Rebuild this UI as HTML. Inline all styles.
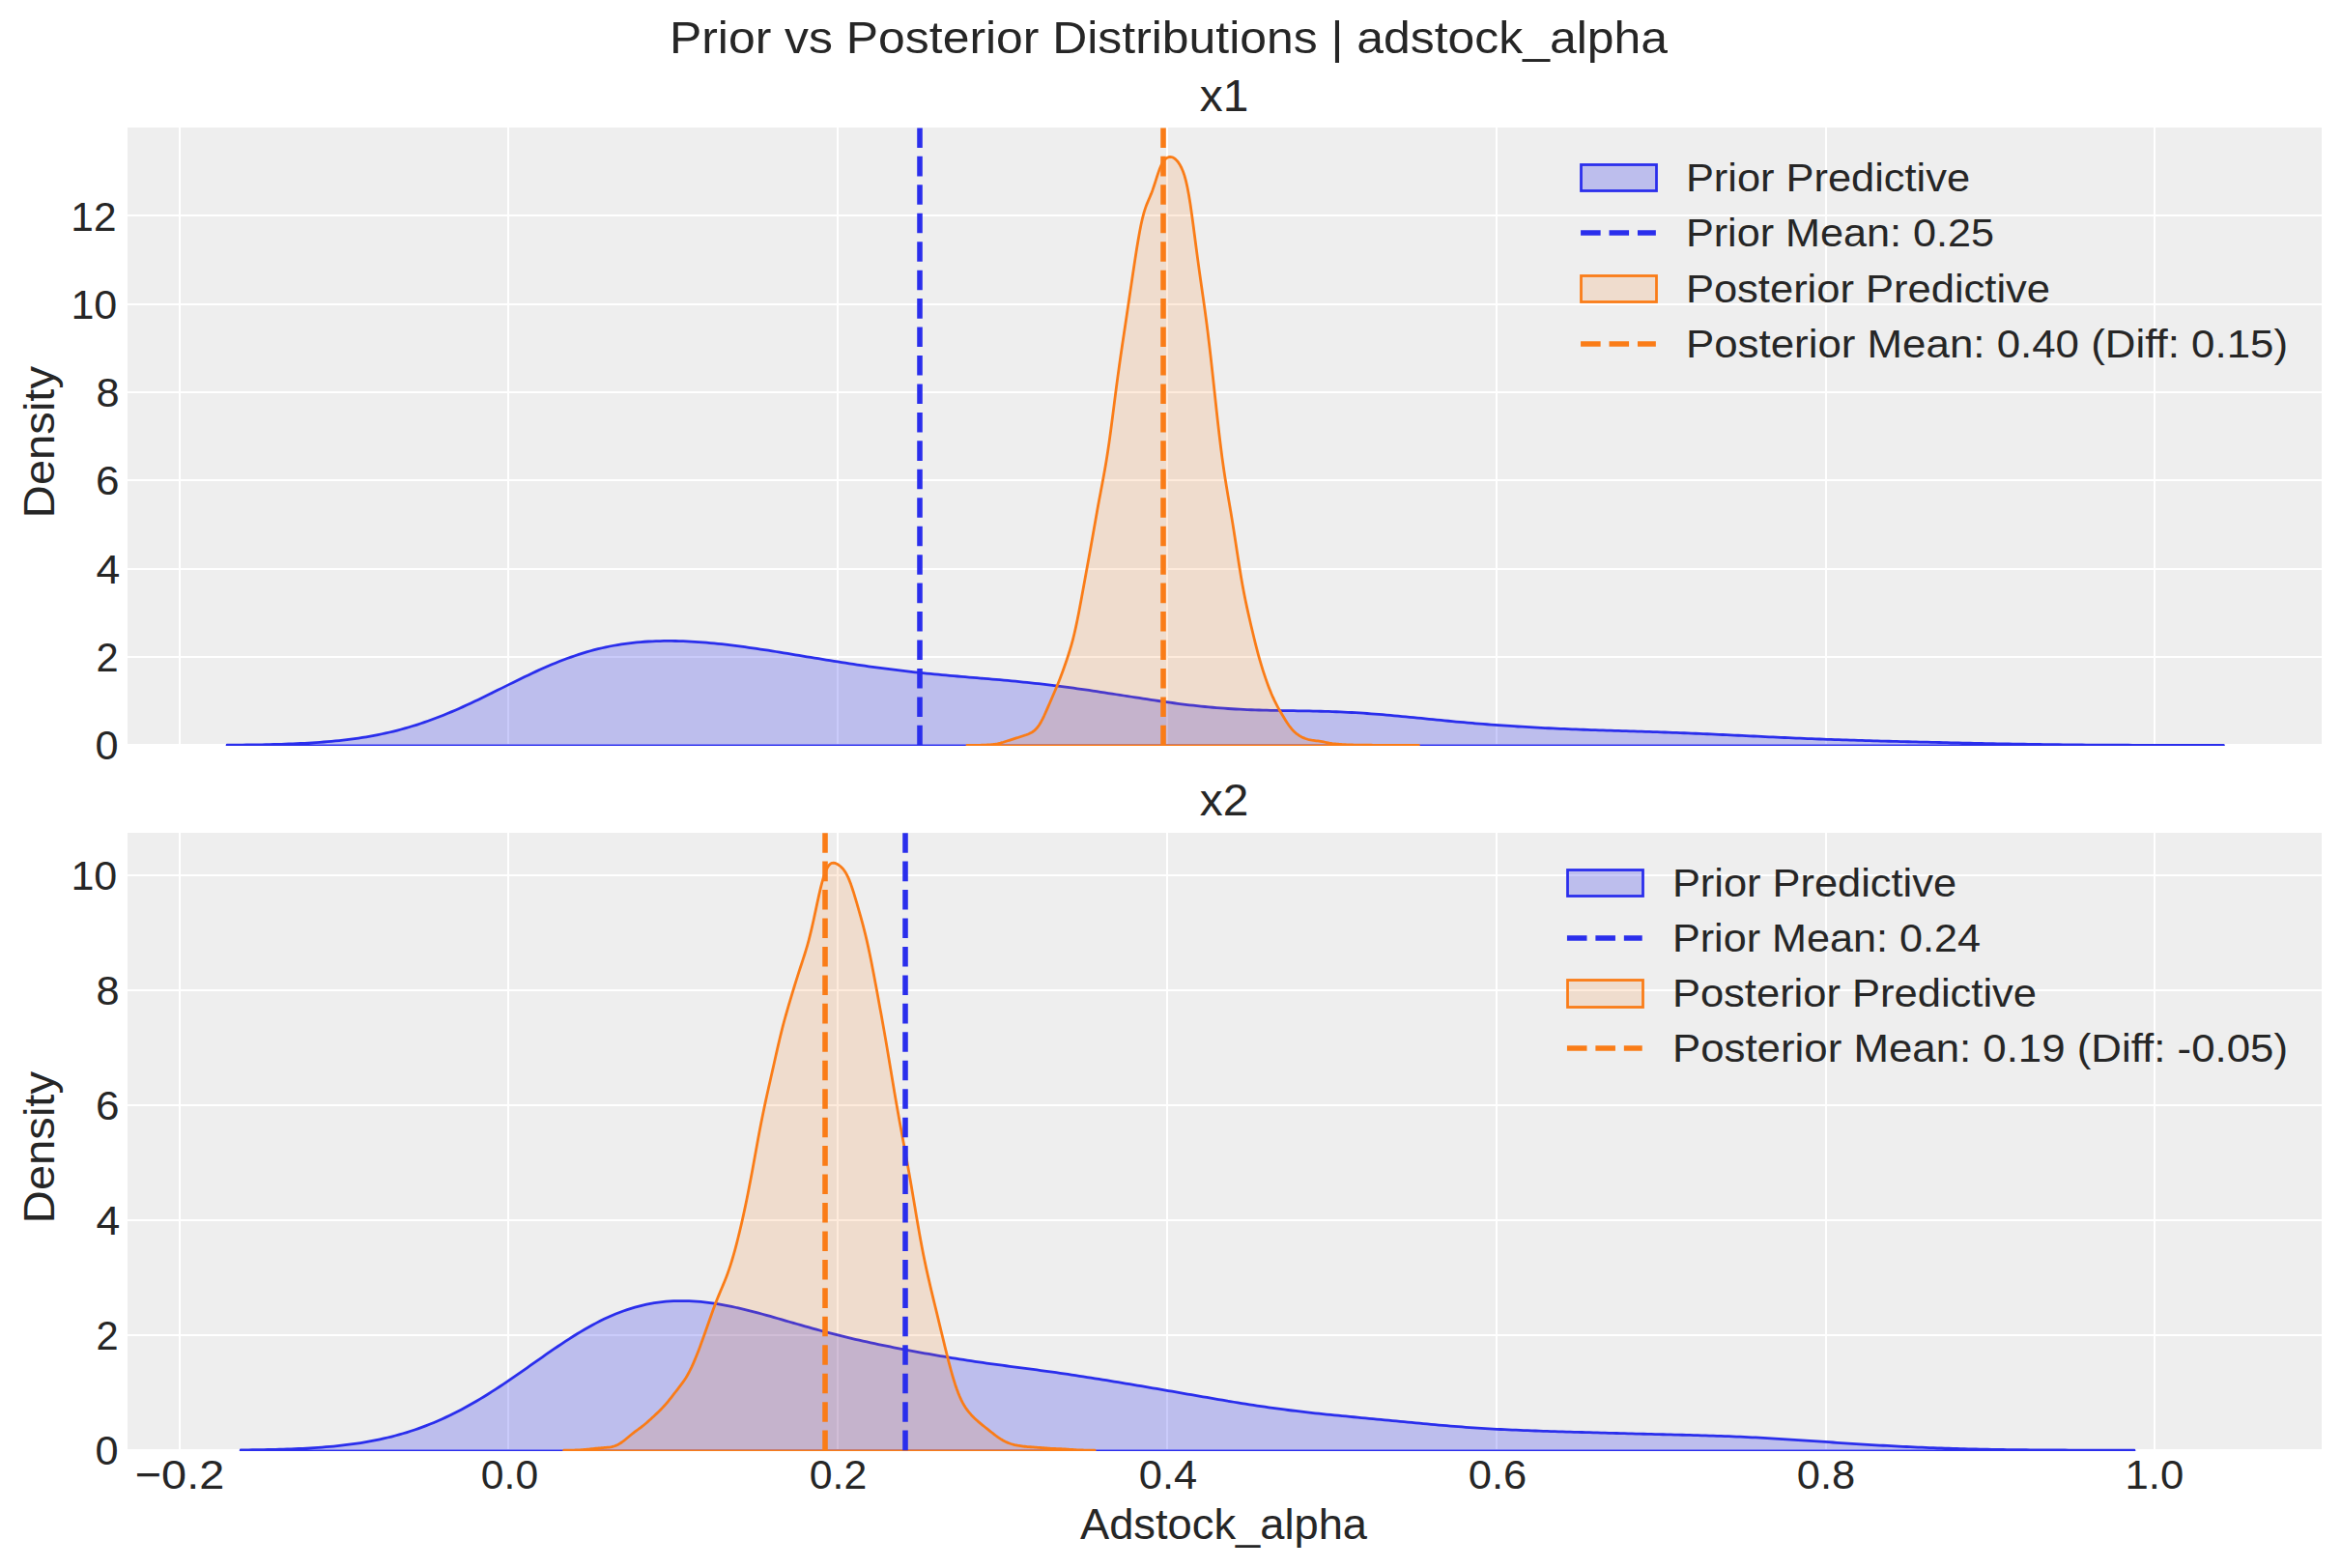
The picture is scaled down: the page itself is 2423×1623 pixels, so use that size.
<!DOCTYPE html>
<html lang="en"><head><meta charset="utf-8"><title>Prior vs Posterior Distributions | adstock_alpha</title>
<style>html,body{margin:0;padding:0;background:#fff}body{width:2423px;height:1623px;overflow:hidden}svg{display:block}text{font-family:"Liberation Sans",sans-serif;fill:#262626;white-space:pre}</style></head><body>
<svg width="2423" height="1623" viewBox="0 0 2423 1623">
<rect width="2423" height="1623" fill="#fff"/>
<defs>
<clipPath id="c0"><rect x="132" y="132" width="2271" height="640"/></clipPath>
<clipPath id="c1"><rect x="132" y="862" width="2271" height="640"/></clipPath>
</defs>
<g id="axes0">
<rect x="132" y="132" width="2271" height="640" fill="#eeeeee"/>
<path d="M185,132h2v640h-2zM525,132h2v640h-2zM866,132h2v640h-2zM1207,132h2v640h-2zM1548,132h2v640h-2zM1889,132h2v640h-2zM2229,132h2v640h-2zM132,222h2271v2h-2271zM132,314h2271v2h-2271zM132,405h2271v2h-2271zM132,496h2271v2h-2271zM132,588h2271v2h-2271zM132,679h2271v2h-2271zM132,770h2271v2h-2271z" fill="#fff"/>
<g clip-path="url(#c0)">
<path d="M235.10,771.90 L235.10,771.20 L239.10,771.17 L243.10,771.14 L247.10,771.10 L251.10,771.06 L255.10,771.01 L259.10,770.96 L263.10,770.90 L267.10,770.84 L271.10,770.77 L275.10,770.69 L279.10,770.60 L283.10,770.50 L287.10,770.40 L291.10,770.28 L295.10,770.15 L299.10,770.01 L303.10,769.85 L307.10,769.69 L311.10,769.50 L315.10,769.30 L319.10,769.08 L323.10,768.84 L327.10,768.58 L331.10,768.30 L335.10,768.00 L339.10,767.67 L343.10,767.32 L347.10,766.94 L351.10,766.53 L355.10,766.10 L359.10,765.63 L363.10,765.12 L367.10,764.59 L371.10,764.02 L375.10,763.41 L379.10,762.76 L383.10,762.07 L387.10,761.34 L391.10,760.57 L395.10,759.75 L399.10,758.89 L403.10,757.99 L407.10,757.04 L411.10,756.03 L415.10,754.99 L419.10,753.89 L423.10,752.74 L427.10,751.54 L431.10,750.30 L435.10,749.00 L439.10,747.65 L443.10,746.26 L447.10,744.81 L451.10,743.32 L455.10,741.78 L459.10,740.20 L463.10,738.57 L467.10,736.89 L471.10,735.18 L475.10,733.43 L479.10,731.64 L483.10,729.82 L487.10,727.96 L491.10,726.08 L495.10,724.17 L499.10,722.24 L503.10,720.29 L507.10,718.32 L511.10,716.34 L515.10,714.36 L519.10,712.37 L523.10,710.37 L527.10,708.38 L531.10,706.40 L535.10,704.43 L539.10,702.48 L543.10,700.54 L547.10,698.63 L551.10,696.74 L555.10,694.88 L559.10,693.06 L563.10,691.28 L567.10,689.53 L571.10,687.83 L575.10,686.18 L579.10,684.58 L583.10,683.02 L587.10,681.53 L591.10,680.08 L595.10,678.70 L599.10,677.37 L603.10,676.11 L607.10,674.91 L611.10,673.77 L615.10,672.69 L619.10,671.68 L623.10,670.73 L627.10,669.84 L631.10,669.01 L635.10,668.25 L639.10,667.55 L643.10,666.91 L647.10,666.33 L651.10,665.80 L655.10,665.33 L659.10,664.92 L663.10,664.56 L667.10,664.26 L671.10,664.00 L675.10,663.80 L679.10,663.64 L683.10,663.53 L687.10,663.46 L691.10,663.43 L695.10,663.45 L699.10,663.51 L703.10,663.60 L707.10,663.73 L711.10,663.90 L715.10,664.09 L719.10,664.33 L723.10,664.59 L727.10,664.88 L731.10,665.20 L735.10,665.55 L739.10,665.92 L743.10,666.32 L747.10,666.74 L751.10,667.19 L755.10,667.65 L759.10,668.14 L763.10,668.64 L767.10,669.17 L771.10,669.71 L775.10,670.26 L779.10,670.83 L783.10,671.42 L787.10,672.01 L791.10,672.62 L795.10,673.24 L799.10,673.87 L803.10,674.50 L807.10,675.15 L811.10,675.80 L815.10,676.45 L819.10,677.11 L823.10,677.77 L827.10,678.43 L831.10,679.09 L835.10,679.76 L839.10,680.42 L843.10,681.08 L847.10,681.74 L851.10,682.39 L855.10,683.04 L859.10,683.69 L863.10,684.33 L867.10,684.96 L871.10,685.59 L875.10,686.21 L879.10,686.83 L883.10,687.43 L887.10,688.03 L891.10,688.62 L895.10,689.20 L899.10,689.77 L903.10,690.33 L907.10,690.88 L911.10,691.42 L915.10,691.95 L919.10,692.46 L923.10,692.97 L927.10,693.47 L931.10,693.95 L935.10,694.42 L939.10,694.89 L943.10,695.34 L947.10,695.78 L951.10,696.21 L955.10,696.62 L959.10,697.03 L963.10,697.43 L967.10,697.82 L971.10,698.20 L975.10,698.58 L979.10,698.94 L983.10,699.30 L987.10,699.65 L991.10,700.00 L995.10,700.34 L999.10,700.68 L1003.10,701.02 L1007.10,701.36 L1011.10,701.69 L1015.10,702.03 L1019.10,702.36 L1023.10,702.70 L1027.10,703.05 L1031.10,703.39 L1035.10,703.74 L1039.10,704.10 L1043.10,704.47 L1047.10,704.84 L1051.10,705.22 L1055.10,705.61 L1059.10,706.01 L1063.10,706.42 L1067.10,706.84 L1071.10,707.27 L1075.10,707.71 L1079.10,708.17 L1083.10,708.63 L1087.10,709.11 L1091.10,709.60 L1095.10,710.10 L1099.10,710.61 L1103.10,711.14 L1107.10,711.67 L1111.10,712.22 L1115.10,712.77 L1119.10,713.34 L1123.10,713.91 L1127.10,714.49 L1131.10,715.08 L1135.10,715.68 L1139.10,716.28 L1143.10,716.89 L1147.10,717.51 L1151.10,718.13 L1155.10,718.75 L1159.10,719.37 L1163.10,720.00 L1167.10,720.62 L1171.10,721.25 L1175.10,721.87 L1179.10,722.49 L1183.10,723.10 L1187.10,723.71 L1191.10,724.32 L1195.10,724.91 L1199.10,725.50 L1203.10,726.08 L1207.10,726.65 L1211.10,727.20 L1215.10,727.75 L1219.10,728.28 L1223.10,728.79 L1227.10,729.29 L1231.10,729.77 L1235.10,730.23 L1239.10,730.67 L1243.10,731.10 L1247.10,731.50 L1251.10,731.89 L1255.10,732.25 L1259.10,732.59 L1263.10,732.91 L1267.10,733.21 L1271.10,733.49 L1275.10,733.75 L1279.10,733.99 L1283.10,734.20 L1287.10,734.40 L1291.10,734.58 L1295.10,734.74 L1299.10,734.88 L1303.10,735.01 L1307.10,735.13 L1311.10,735.23 L1315.10,735.32 L1319.10,735.40 L1323.10,735.47 L1327.10,735.54 L1331.10,735.60 L1335.10,735.66 L1339.10,735.72 L1343.10,735.78 L1347.10,735.84 L1351.10,735.90 L1355.10,735.98 L1359.10,736.05 L1363.10,736.14 L1367.10,736.24 L1371.10,736.35 L1375.10,736.47 L1379.10,736.60 L1383.10,736.75 L1387.10,736.91 L1391.10,737.09 L1395.10,737.29 L1399.10,737.50 L1403.10,737.72 L1407.10,737.96 L1411.10,738.22 L1415.10,738.50 L1419.10,738.78 L1423.10,739.09 L1427.10,739.40 L1431.10,739.73 L1435.10,740.07 L1439.10,740.42 L1443.10,740.78 L1447.10,741.15 L1451.10,741.53 L1455.10,741.91 L1459.10,742.30 L1463.10,742.70 L1467.10,743.09 L1471.10,743.49 L1475.10,743.89 L1479.10,744.29 L1483.10,744.69 L1487.10,745.09 L1491.10,745.48 L1495.10,745.87 L1499.10,746.25 L1503.10,746.63 L1507.10,747.01 L1511.10,747.38 L1515.10,747.74 L1519.10,748.09 L1523.10,748.44 L1527.10,748.78 L1531.10,749.11 L1535.10,749.44 L1539.10,749.75 L1543.10,750.06 L1547.10,750.36 L1551.10,750.65 L1555.10,750.93 L1559.10,751.21 L1563.10,751.47 L1567.10,751.73 L1571.10,751.99 L1575.10,752.23 L1579.10,752.47 L1583.10,752.70 L1587.10,752.92 L1591.10,753.13 L1595.10,753.34 L1599.10,753.54 L1603.10,753.74 L1607.10,753.93 L1611.10,754.11 L1615.10,754.29 L1619.10,754.46 L1623.10,754.63 L1627.10,754.79 L1631.10,754.95 L1635.10,755.11 L1639.10,755.25 L1643.10,755.40 L1647.10,755.54 L1651.10,755.68 L1655.10,755.81 L1659.10,755.95 L1663.10,756.08 L1667.10,756.21 L1671.10,756.33 L1675.10,756.46 L1679.10,756.58 L1683.10,756.71 L1687.10,756.83 L1691.10,756.96 L1695.10,757.08 L1699.10,757.21 L1703.10,757.34 L1707.10,757.47 L1711.10,757.60 L1715.10,757.73 L1719.10,757.87 L1723.10,758.01 L1727.10,758.15 L1731.10,758.30 L1735.10,758.45 L1739.10,758.60 L1743.10,758.76 L1747.10,758.91 L1751.10,759.08 L1755.10,759.24 L1759.10,759.41 L1763.10,759.59 L1767.10,759.76 L1771.10,759.94 L1775.10,760.12 L1779.10,760.30 L1783.10,760.49 L1787.10,760.68 L1791.10,760.86 L1795.10,761.05 L1799.10,761.25 L1803.10,761.44 L1807.10,761.63 L1811.10,761.82 L1815.10,762.01 L1819.10,762.21 L1823.10,762.40 L1827.10,762.59 L1831.10,762.77 L1835.10,762.96 L1839.10,763.14 L1843.10,763.33 L1847.10,763.51 L1851.10,763.68 L1855.10,763.86 L1859.10,764.03 L1863.10,764.20 L1867.10,764.36 L1871.10,764.53 L1875.10,764.69 L1879.10,764.84 L1883.10,764.99 L1887.10,765.14 L1891.10,765.29 L1895.10,765.43 L1899.10,765.57 L1903.10,765.71 L1907.10,765.84 L1911.10,765.97 L1915.10,766.10 L1919.10,766.23 L1923.10,766.35 L1927.10,766.47 L1931.10,766.59 L1935.10,766.70 L1939.10,766.81 L1943.10,766.92 L1947.10,767.03 L1951.10,767.14 L1955.10,767.25 L1959.10,767.35 L1963.10,767.45 L1967.10,767.55 L1971.10,767.65 L1975.10,767.75 L1979.10,767.85 L1983.10,767.95 L1987.10,768.04 L1991.10,768.14 L1995.10,768.23 L1999.10,768.33 L2003.10,768.42 L2007.10,768.51 L2011.10,768.60 L2015.10,768.69 L2019.10,768.78 L2023.10,768.87 L2027.10,768.96 L2031.10,769.05 L2035.10,769.13 L2039.10,769.22 L2043.10,769.30 L2047.10,769.38 L2051.10,769.46 L2055.10,769.54 L2059.10,769.62 L2063.10,769.70 L2067.10,769.78 L2071.10,769.85 L2075.10,769.92 L2079.10,770.00 L2083.10,770.07 L2087.10,770.13 L2091.10,770.20 L2095.10,770.26 L2099.10,770.33 L2103.10,770.39 L2107.10,770.44 L2111.10,770.50 L2115.10,770.55 L2119.10,770.61 L2123.10,770.66 L2127.10,770.70 L2131.10,770.75 L2135.10,770.79 L2139.10,770.84 L2143.10,770.88 L2147.10,770.91 L2151.10,770.95 L2155.10,770.98 L2159.10,771.02 L2163.10,771.05 L2167.10,771.07 L2171.10,771.10 L2175.10,771.13 L2179.10,771.15 L2183.10,771.17 L2187.10,771.19 L2191.10,771.21 L2195.10,771.23 L2199.10,771.25 L2203.10,771.26 L2207.10,771.28 L2211.10,771.29 L2215.10,771.30 L2219.10,771.31 L2223.10,771.32 L2227.10,771.33 L2231.10,771.34 L2235.10,771.35 L2239.10,771.36 L2243.10,771.36 L2247.10,771.37 L2251.10,771.37 L2255.10,771.38 L2259.10,771.38 L2263.10,771.39 L2267.10,771.39 L2271.10,771.39 L2275.10,771.40 L2279.10,771.40 L2283.10,771.40 L2287.10,771.40 L2291.10,771.40 L2295.10,771.41 L2299.10,771.41 L2301.40,771.41 L2301.40,771.90Z" fill="#2a2eec" fill-opacity="0.25" stroke="#2a2eec" stroke-width="2.78" stroke-linejoin="round"/>
<path d="M1001.00,771.90 L1001.00,771.41 L1002.50,771.41 L1004.00,771.41 L1005.50,771.40 L1007.00,771.40 L1008.50,771.39 L1010.00,771.38 L1011.50,771.36 L1013.00,771.33 L1014.50,771.30 L1016.00,771.26 L1017.50,771.22 L1019.00,771.16 L1020.50,771.09 L1022.00,771.00 L1023.50,770.90 L1025.00,770.78 L1026.50,770.63 L1028.00,770.47 L1029.50,770.27 L1031.00,770.03 L1032.50,769.76 L1034.00,769.44 L1035.50,769.08 L1037.00,768.68 L1038.50,768.25 L1040.00,767.78 L1041.50,767.30 L1043.00,766.80 L1044.50,766.31 L1046.00,765.82 L1047.50,765.33 L1049.00,764.86 L1050.50,764.39 L1052.00,763.93 L1053.50,763.47 L1055.00,763.00 L1056.50,762.52 L1058.00,762.04 L1059.50,761.55 L1061.00,761.04 L1062.50,760.52 L1064.00,759.95 L1065.50,759.33 L1067.00,758.60 L1068.50,757.74 L1070.00,756.68 L1071.50,755.39 L1073.00,753.81 L1074.50,751.93 L1076.00,749.71 L1077.50,747.18 L1079.00,744.35 L1080.50,741.28 L1082.00,738.01 L1083.50,734.62 L1085.00,731.16 L1086.50,727.68 L1088.00,724.21 L1089.50,720.75 L1091.00,717.29 L1092.50,713.80 L1094.00,710.24 L1095.50,706.56 L1097.00,702.76 L1098.50,698.81 L1100.00,694.74 L1101.50,690.55 L1103.00,686.25 L1104.50,681.83 L1106.00,677.25 L1107.50,672.45 L1109.00,667.32 L1110.50,661.78 L1112.00,655.73 L1113.50,649.16 L1115.00,642.05 L1116.50,634.49 L1118.00,626.59 L1119.50,618.46 L1121.00,610.23 L1122.50,602.00 L1124.00,593.78 L1125.50,585.58 L1127.00,577.33 L1128.50,569.01 L1130.00,560.57 L1131.50,552.02 L1133.00,543.44 L1134.50,534.92 L1136.00,526.54 L1137.50,518.37 L1139.00,510.39 L1140.50,502.51 L1142.00,494.54 L1143.50,486.28 L1145.00,477.49 L1146.50,468.03 L1148.00,457.83 L1149.50,446.94 L1151.00,435.53 L1152.50,423.83 L1154.00,412.10 L1155.50,400.54 L1157.00,389.31 L1158.50,378.46 L1160.00,367.97 L1161.50,357.75 L1163.00,347.69 L1164.50,337.69 L1166.00,327.68 L1167.50,317.63 L1169.00,307.53 L1170.50,297.41 L1172.00,287.30 L1173.50,277.26 L1175.00,267.39 L1176.50,257.80 L1178.00,248.66 L1179.50,240.18 L1181.00,232.52 L1182.50,225.83 L1184.00,220.14 L1185.50,215.38 L1187.00,211.35 L1188.50,207.76 L1190.00,204.28 L1191.50,200.64 L1193.00,196.66 L1194.50,192.29 L1196.00,187.65 L1197.50,182.92 L1199.00,178.39 L1200.50,174.29 L1202.00,170.81 L1203.50,168.01 L1205.00,165.88 L1206.50,164.35 L1208.00,163.32 L1209.50,162.69 L1211.00,162.43 L1212.50,162.52 L1214.00,162.99 L1215.50,163.84 L1217.00,165.08 L1218.50,166.70 L1220.00,168.70 L1221.50,171.10 L1223.00,173.99 L1224.50,177.52 L1226.00,181.89 L1227.50,187.33 L1229.00,194.02 L1230.50,202.03 L1232.00,211.31 L1233.50,221.65 L1235.00,232.75 L1236.50,244.24 L1238.00,255.78 L1239.50,267.10 L1241.00,278.09 L1242.50,288.74 L1244.00,299.19 L1245.50,309.65 L1247.00,320.34 L1248.50,331.47 L1250.00,343.16 L1251.50,355.48 L1253.00,368.41 L1254.50,381.84 L1256.00,395.64 L1257.50,409.59 L1259.00,423.48 L1260.50,437.08 L1262.00,450.16 L1263.50,462.54 L1265.00,474.10 L1266.50,484.81 L1268.00,494.73 L1269.50,504.03 L1271.00,512.92 L1272.50,521.67 L1274.00,530.51 L1275.50,539.61 L1277.00,549.02 L1278.50,558.71 L1280.00,568.53 L1281.50,578.30 L1283.00,587.82 L1284.50,596.92 L1286.00,605.48 L1287.50,613.49 L1289.00,621.00 L1290.50,628.09 L1292.00,634.88 L1293.50,641.48 L1295.00,647.94 L1296.50,654.29 L1298.00,660.52 L1299.50,666.58 L1301.00,672.43 L1302.50,678.03 L1304.00,683.37 L1305.50,688.45 L1307.00,693.29 L1308.50,697.92 L1310.00,702.37 L1311.50,706.63 L1313.00,710.71 L1314.50,714.59 L1316.00,718.26 L1317.50,721.70 L1319.00,724.93 L1320.50,727.95 L1322.00,730.81 L1323.50,733.55 L1325.00,736.19 L1326.50,738.78 L1328.00,741.32 L1329.50,743.80 L1331.00,746.22 L1332.50,748.53 L1334.00,750.72 L1335.50,752.74 L1337.00,754.59 L1338.50,756.25 L1340.00,757.73 L1341.50,759.04 L1343.00,760.19 L1344.50,761.21 L1346.00,762.11 L1347.50,762.92 L1349.00,763.62 L1350.50,764.25 L1352.00,764.79 L1353.50,765.25 L1355.00,765.63 L1356.50,765.95 L1358.00,766.21 L1359.50,766.43 L1361.00,766.62 L1362.50,766.81 L1364.00,766.99 L1365.50,767.20 L1367.00,767.42 L1368.50,767.68 L1370.00,767.96 L1371.50,768.25 L1373.00,768.56 L1374.50,768.85 L1376.00,769.14 L1377.50,769.39 L1379.00,769.63 L1380.50,769.83 L1382.00,770.00 L1383.50,770.14 L1385.00,770.26 L1386.50,770.37 L1388.00,770.46 L1389.50,770.55 L1391.00,770.62 L1392.50,770.70 L1394.00,770.77 L1395.50,770.83 L1397.00,770.89 L1398.50,770.95 L1400.00,771.00 L1401.50,771.04 L1403.00,771.07 L1404.50,771.10 L1406.00,771.13 L1407.50,771.15 L1409.00,771.17 L1410.50,771.19 L1412.00,771.21 L1413.50,771.22 L1415.00,771.23 L1416.50,771.24 L1418.00,771.25 L1419.50,771.26 L1421.00,771.27 L1422.50,771.28 L1424.00,771.28 L1425.50,771.29 L1427.00,771.30 L1428.50,771.31 L1430.00,771.32 L1431.50,771.33 L1433.00,771.34 L1434.50,771.34 L1436.00,771.35 L1437.50,771.35 L1439.00,771.36 L1440.50,771.36 L1442.00,771.37 L1443.50,771.37 L1445.00,771.38 L1446.50,771.38 L1448.00,771.39 L1449.50,771.39 L1451.00,771.40 L1452.50,771.40 L1454.00,771.40 L1455.50,771.41 L1457.00,771.41 L1458.50,771.41 L1460.00,771.41 L1461.50,771.41 L1463.00,771.42 L1464.50,771.42 L1466.00,771.42 L1467.50,771.42 L1468.30,771.42 L1468.30,771.90Z" fill="#fa7c17" fill-opacity="0.15" stroke="#fa7c17" stroke-width="2.78" stroke-linejoin="round"/>
<path d="M952.0,771.42V92" stroke="#2a2eec" stroke-width="5.56" stroke-dasharray="20.56 8.89" fill="none"/>
<path d="M1204.0,771.42V92" stroke="#fa7c17" stroke-width="5.56" stroke-dasharray="20.56 8.89" fill="none"/>
</g>
<rect x="1636.5" y="170.5" width="78.0" height="27.0" fill="#2a2eec" fill-opacity="0.25" stroke="#2a2eec" stroke-width="2.78"/>
<rect x="1636.5" y="285.5" width="78.0" height="27.0" fill="#fa7c17" fill-opacity="0.15" stroke="#fa7c17" stroke-width="2.78"/>
<path d="M1636.07,241.0H1713.85" stroke="#2a2eec" stroke-width="5.56" stroke-dasharray="20.56 8.89" fill="none"/>
<path d="M1636.07,356.0H1713.85" stroke="#fa7c17" stroke-width="5.56" stroke-dasharray="20.56 8.89" fill="none"/>
</g>
<g id="axes1">
<rect x="132" y="862" width="2271" height="640" fill="#eeeeee"/>
<path d="M185,862h2v640h-2zM525,862h2v640h-2zM866,862h2v640h-2zM1207,862h2v640h-2zM1548,862h2v640h-2zM1889,862h2v640h-2zM2229,862h2v640h-2zM132,905h2271v2h-2271zM132,1024h2271v2h-2271zM132,1143h2271v2h-2271zM132,1262h2271v2h-2271zM132,1381h2271v2h-2271zM132,1500h2271v2h-2271z" fill="#fff"/>
<g clip-path="url(#c1)">
<path d="M249.20,1501.90 L249.20,1500.88 L253.20,1500.84 L257.20,1500.80 L261.20,1500.75 L265.20,1500.69 L269.20,1500.63 L273.20,1500.56 L277.20,1500.48 L281.20,1500.40 L285.20,1500.30 L289.20,1500.19 L293.20,1500.08 L297.20,1499.94 L301.20,1499.80 L305.20,1499.64 L309.20,1499.47 L313.20,1499.28 L317.20,1499.07 L321.20,1498.85 L325.20,1498.60 L329.20,1498.33 L333.20,1498.04 L337.20,1497.72 L341.20,1497.38 L345.20,1497.01 L349.20,1496.61 L353.20,1496.18 L357.20,1495.72 L361.20,1495.22 L365.20,1494.69 L369.20,1494.12 L373.20,1493.51 L377.20,1492.86 L381.20,1492.17 L385.20,1491.43 L389.20,1490.65 L393.20,1489.82 L397.20,1488.94 L401.20,1488.01 L405.20,1487.03 L409.20,1485.99 L413.20,1484.90 L417.20,1483.75 L421.20,1482.55 L425.20,1481.29 L429.20,1479.97 L433.20,1478.58 L437.20,1477.14 L441.20,1475.63 L445.20,1474.06 L449.20,1472.42 L453.20,1470.73 L457.20,1468.96 L461.20,1467.14 L465.20,1465.25 L469.20,1463.29 L473.20,1461.27 L477.20,1459.19 L481.20,1457.05 L485.20,1454.84 L489.20,1452.58 L493.20,1450.26 L497.20,1447.88 L501.20,1445.45 L505.20,1442.97 L509.20,1440.44 L513.20,1437.87 L517.20,1435.25 L521.20,1432.59 L525.20,1429.90 L529.20,1427.17 L533.20,1424.42 L537.20,1421.64 L541.20,1418.85 L545.20,1416.04 L549.20,1413.22 L553.20,1410.40 L557.20,1407.59 L561.20,1404.78 L565.20,1401.98 L569.20,1399.20 L573.20,1396.45 L577.20,1393.73 L581.20,1391.04 L585.20,1388.40 L589.20,1385.80 L593.20,1383.25 L597.20,1380.77 L601.20,1378.34 L605.20,1375.99 L609.20,1373.70 L613.20,1371.49 L617.20,1369.36 L621.20,1367.32 L625.20,1365.36 L629.20,1363.50 L633.20,1361.72 L637.20,1360.05 L641.20,1358.46 L645.20,1356.98 L649.20,1355.60 L653.20,1354.31 L657.20,1353.13 L661.20,1352.05 L665.20,1351.06 L669.20,1350.18 L673.20,1349.40 L677.20,1348.71 L681.20,1348.12 L685.20,1347.63 L689.20,1347.23 L693.20,1346.92 L697.20,1346.70 L701.20,1346.56 L705.20,1346.52 L709.20,1346.55 L713.20,1346.66 L717.20,1346.85 L721.20,1347.12 L725.20,1347.45 L729.20,1347.86 L733.20,1348.33 L737.20,1348.87 L741.20,1349.46 L745.20,1350.12 L749.20,1350.82 L753.20,1351.58 L757.20,1352.39 L761.20,1353.25 L765.20,1354.14 L769.20,1355.08 L773.20,1356.05 L777.20,1357.05 L781.20,1358.09 L785.20,1359.15 L789.20,1360.23 L793.20,1361.34 L797.20,1362.46 L801.20,1363.59 L805.20,1364.74 L809.20,1365.89 L813.20,1367.05 L817.20,1368.21 L821.20,1369.37 L825.20,1370.52 L829.20,1371.67 L833.20,1372.82 L837.20,1373.95 L841.20,1375.07 L845.20,1376.17 L849.20,1377.26 L853.20,1378.34 L857.20,1379.40 L861.20,1380.44 L865.20,1381.46 L869.20,1382.46 L873.20,1383.45 L877.20,1384.42 L881.20,1385.36 L885.20,1386.29 L889.20,1387.21 L893.20,1388.10 L897.20,1388.98 L901.20,1389.85 L905.20,1390.70 L909.20,1391.54 L913.20,1392.36 L917.20,1393.17 L921.20,1393.98 L925.20,1394.77 L929.20,1395.55 L933.20,1396.32 L937.20,1397.08 L941.20,1397.83 L945.20,1398.58 L949.20,1399.31 L953.20,1400.04 L957.20,1400.76 L961.20,1401.47 L965.20,1402.18 L969.20,1402.87 L973.20,1403.56 L977.20,1404.23 L981.20,1404.90 L985.20,1405.55 L989.20,1406.20 L993.20,1406.84 L997.20,1407.46 L1001.20,1408.08 L1005.20,1408.69 L1009.20,1409.28 L1013.20,1409.87 L1017.20,1410.45 L1021.20,1411.02 L1025.20,1411.58 L1029.20,1412.13 L1033.20,1412.68 L1037.20,1413.22 L1041.20,1413.75 L1045.20,1414.29 L1049.20,1414.82 L1053.20,1415.34 L1057.20,1415.87 L1061.20,1416.40 L1065.20,1416.93 L1069.20,1417.46 L1073.20,1417.99 L1077.20,1418.53 L1081.20,1419.08 L1085.20,1419.62 L1089.20,1420.18 L1093.20,1420.74 L1097.20,1421.31 L1101.20,1421.89 L1105.20,1422.47 L1109.20,1423.06 L1113.20,1423.66 L1117.20,1424.27 L1121.20,1424.88 L1125.20,1425.51 L1129.20,1426.13 L1133.20,1426.77 L1137.20,1427.41 L1141.20,1428.06 L1145.20,1428.71 L1149.20,1429.36 L1153.20,1430.02 L1157.20,1430.69 L1161.20,1431.36 L1165.20,1432.03 L1169.20,1432.70 L1173.20,1433.38 L1177.20,1434.06 L1181.20,1434.74 L1185.20,1435.42 L1189.20,1436.10 L1193.20,1436.79 L1197.20,1437.48 L1201.20,1438.17 L1205.20,1438.86 L1209.20,1439.55 L1213.20,1440.24 L1217.20,1440.93 L1221.20,1441.63 L1225.20,1442.32 L1229.20,1443.02 L1233.20,1443.72 L1237.20,1444.41 L1241.20,1445.11 L1245.20,1445.80 L1249.20,1446.49 L1253.20,1447.18 L1257.20,1447.87 L1261.20,1448.56 L1265.20,1449.24 L1269.20,1449.91 L1273.20,1450.58 L1277.20,1451.25 L1281.20,1451.90 L1285.20,1452.55 L1289.20,1453.19 L1293.20,1453.82 L1297.20,1454.44 L1301.20,1455.05 L1305.20,1455.65 L1309.20,1456.24 L1313.20,1456.81 L1317.20,1457.38 L1321.20,1457.93 L1325.20,1458.46 L1329.20,1458.99 L1333.20,1459.50 L1337.20,1460.00 L1341.20,1460.49 L1345.20,1460.96 L1349.20,1461.43 L1353.20,1461.88 L1357.20,1462.32 L1361.20,1462.76 L1365.20,1463.18 L1369.20,1463.60 L1373.20,1464.01 L1377.20,1464.42 L1381.20,1464.81 L1385.20,1465.21 L1389.20,1465.60 L1393.20,1465.99 L1397.20,1466.37 L1401.20,1466.75 L1405.20,1467.13 L1409.20,1467.51 L1413.20,1467.89 L1417.20,1468.27 L1421.20,1468.66 L1425.20,1469.04 L1429.20,1469.42 L1433.20,1469.80 L1437.20,1470.18 L1441.20,1470.57 L1445.20,1470.95 L1449.20,1471.33 L1453.20,1471.71 L1457.20,1472.09 L1461.20,1472.47 L1465.20,1472.85 L1469.20,1473.22 L1473.20,1473.60 L1477.20,1473.96 L1481.20,1474.32 L1485.20,1474.68 L1489.20,1475.03 L1493.20,1475.37 L1497.20,1475.71 L1501.20,1476.04 L1505.20,1476.36 L1509.20,1476.67 L1513.20,1476.98 L1517.20,1477.27 L1521.20,1477.56 L1525.20,1477.83 L1529.20,1478.10 L1533.20,1478.35 L1537.20,1478.60 L1541.20,1478.83 L1545.20,1479.06 L1549.20,1479.28 L1553.20,1479.49 L1557.20,1479.68 L1561.20,1479.87 L1565.20,1480.06 L1569.20,1480.23 L1573.20,1480.40 L1577.20,1480.56 L1581.20,1480.72 L1585.20,1480.86 L1589.20,1481.01 L1593.20,1481.15 L1597.20,1481.28 L1601.20,1481.42 L1605.20,1481.54 L1609.20,1481.67 L1613.20,1481.79 L1617.20,1481.91 L1621.20,1482.03 L1625.20,1482.15 L1629.20,1482.27 L1633.20,1482.38 L1637.20,1482.50 L1641.20,1482.61 L1645.20,1482.73 L1649.20,1482.84 L1653.20,1482.95 L1657.20,1483.06 L1661.20,1483.17 L1665.20,1483.28 L1669.20,1483.39 L1673.20,1483.50 L1677.20,1483.61 L1681.20,1483.72 L1685.20,1483.82 L1689.20,1483.93 L1693.20,1484.03 L1697.20,1484.13 L1701.20,1484.24 L1705.20,1484.34 L1709.20,1484.44 L1713.20,1484.54 L1717.20,1484.64 L1721.20,1484.74 L1725.20,1484.83 L1729.20,1484.93 L1733.20,1485.03 L1737.20,1485.14 L1741.20,1485.24 L1745.20,1485.34 L1749.20,1485.45 L1753.20,1485.56 L1757.20,1485.67 L1761.20,1485.79 L1765.20,1485.91 L1769.20,1486.03 L1773.20,1486.16 L1777.20,1486.29 L1781.20,1486.43 L1785.20,1486.58 L1789.20,1486.73 L1793.20,1486.89 L1797.20,1487.05 L1801.20,1487.22 L1805.20,1487.40 L1809.20,1487.59 L1813.20,1487.78 L1817.20,1487.98 L1821.20,1488.19 L1825.20,1488.40 L1829.20,1488.62 L1833.20,1488.84 L1837.20,1489.08 L1841.20,1489.31 L1845.20,1489.56 L1849.20,1489.81 L1853.20,1490.06 L1857.20,1490.32 L1861.20,1490.58 L1865.20,1490.84 L1869.20,1491.11 L1873.20,1491.37 L1877.20,1491.64 L1881.20,1491.92 L1885.20,1492.19 L1889.20,1492.46 L1893.20,1492.73 L1897.20,1493.00 L1901.20,1493.27 L1905.20,1493.54 L1909.20,1493.80 L1913.20,1494.06 L1917.20,1494.32 L1921.20,1494.58 L1925.20,1494.83 L1929.20,1495.08 L1933.20,1495.33 L1937.20,1495.57 L1941.20,1495.80 L1945.20,1496.03 L1949.20,1496.26 L1953.20,1496.48 L1957.20,1496.69 L1961.20,1496.90 L1965.20,1497.10 L1969.20,1497.30 L1973.20,1497.49 L1977.20,1497.68 L1981.20,1497.86 L1985.20,1498.03 L1989.20,1498.20 L1993.20,1498.36 L1997.20,1498.52 L2001.20,1498.67 L2005.20,1498.81 L2009.20,1498.95 L2013.20,1499.08 L2017.20,1499.21 L2021.20,1499.33 L2025.20,1499.45 L2029.20,1499.56 L2033.20,1499.67 L2037.20,1499.77 L2041.20,1499.86 L2045.20,1499.95 L2049.20,1500.04 L2053.20,1500.12 L2057.20,1500.20 L2061.20,1500.27 L2065.20,1500.34 L2069.20,1500.40 L2073.20,1500.46 L2077.20,1500.52 L2081.20,1500.57 L2085.20,1500.62 L2089.20,1500.67 L2093.20,1500.71 L2097.20,1500.75 L2101.20,1500.79 L2105.20,1500.82 L2109.20,1500.85 L2113.20,1500.88 L2117.20,1500.91 L2121.20,1500.93 L2125.20,1500.96 L2129.20,1500.98 L2133.20,1501.00 L2137.20,1501.01 L2141.20,1501.03 L2145.20,1501.04 L2149.20,1501.06 L2153.20,1501.07 L2157.20,1501.08 L2161.20,1501.09 L2165.20,1501.10 L2169.20,1501.11 L2173.20,1501.11 L2177.20,1501.12 L2181.20,1501.13 L2185.20,1501.13 L2189.20,1501.13 L2193.20,1501.14 L2197.20,1501.14 L2201.20,1501.15 L2205.20,1501.15 L2209.00,1501.15 L2209.00,1501.90Z" fill="#2a2eec" fill-opacity="0.25" stroke="#2a2eec" stroke-width="2.78" stroke-linejoin="round"/>
<path d="M583.70,1501.90 L583.70,1501.16 L585.20,1501.15 L586.70,1501.14 L588.20,1501.13 L589.70,1501.12 L591.20,1501.10 L592.70,1501.07 L594.20,1501.04 L595.70,1501.00 L597.20,1500.95 L598.70,1500.88 L600.20,1500.81 L601.70,1500.72 L603.20,1500.61 L604.70,1500.49 L606.20,1500.36 L607.70,1500.21 L609.20,1500.05 L610.70,1499.89 L612.20,1499.72 L613.70,1499.54 L615.20,1499.37 L616.70,1499.21 L618.20,1499.05 L619.70,1498.91 L621.20,1498.78 L622.70,1498.66 L624.20,1498.55 L625.70,1498.44 L627.20,1498.33 L628.70,1498.19 L630.20,1498.02 L631.70,1497.81 L633.20,1497.53 L634.70,1497.17 L636.20,1496.71 L637.70,1496.15 L639.20,1495.47 L640.70,1494.68 L642.20,1493.77 L643.70,1492.75 L645.20,1491.65 L646.70,1490.47 L648.20,1489.24 L649.70,1487.99 L651.20,1486.73 L652.70,1485.49 L654.20,1484.28 L655.70,1483.11 L657.20,1481.96 L658.70,1480.85 L660.20,1479.75 L661.70,1478.65 L663.20,1477.54 L664.70,1476.40 L666.20,1475.22 L667.70,1473.99 L669.20,1472.72 L670.70,1471.41 L672.20,1470.07 L673.70,1468.71 L675.20,1467.33 L676.70,1465.94 L678.20,1464.54 L679.70,1463.13 L681.20,1461.69 L682.70,1460.23 L684.20,1458.72 L685.70,1457.16 L687.20,1455.54 L688.70,1453.85 L690.20,1452.09 L691.70,1450.28 L693.20,1448.42 L694.70,1446.52 L696.20,1444.60 L697.70,1442.68 L699.20,1440.75 L700.70,1438.82 L702.20,1436.89 L703.70,1434.94 L705.20,1432.95 L706.70,1430.89 L708.20,1428.72 L709.70,1426.42 L711.20,1423.95 L712.70,1421.29 L714.20,1418.43 L715.70,1415.37 L717.20,1412.10 L718.70,1408.64 L720.20,1405.02 L721.70,1401.26 L723.20,1397.38 L724.70,1393.40 L726.20,1389.33 L727.70,1385.20 L729.20,1381.01 L730.70,1376.78 L732.20,1372.51 L733.70,1368.23 L735.20,1363.96 L736.70,1359.73 L738.20,1355.59 L739.70,1351.54 L741.20,1347.61 L742.70,1343.82 L744.20,1340.13 L745.70,1336.53 L747.20,1332.97 L748.70,1329.39 L750.20,1325.72 L751.70,1321.91 L753.20,1317.89 L754.70,1313.63 L756.20,1309.09 L757.70,1304.27 L759.20,1299.16 L760.70,1293.77 L762.20,1288.14 L763.70,1282.27 L765.20,1276.18 L766.70,1269.87 L768.20,1263.35 L769.70,1256.62 L771.20,1249.66 L772.70,1242.46 L774.20,1235.02 L775.70,1227.35 L777.20,1219.45 L778.70,1211.38 L780.20,1203.18 L781.70,1194.92 L783.20,1186.67 L784.70,1178.50 L786.20,1170.50 L787.70,1162.72 L789.20,1155.19 L790.70,1147.91 L792.20,1140.87 L793.70,1134.02 L795.20,1127.30 L796.70,1120.65 L798.20,1114.01 L799.70,1107.35 L801.20,1100.68 L802.70,1094.00 L804.20,1087.36 L805.70,1080.83 L807.20,1074.47 L808.70,1068.32 L810.20,1062.41 L811.70,1056.75 L813.20,1051.31 L814.70,1046.05 L816.20,1040.93 L817.70,1035.88 L819.20,1030.89 L820.70,1025.92 L822.20,1021.00 L823.70,1016.13 L825.20,1011.34 L826.70,1006.64 L828.20,1002.03 L829.70,997.47 L831.20,992.91 L832.70,988.26 L834.20,983.42 L835.70,978.30 L837.20,972.83 L838.70,966.96 L840.20,960.68 L841.70,954.06 L843.20,947.17 L844.70,940.15 L846.20,933.15 L847.70,926.34 L849.20,919.89 L850.70,913.96 L852.20,908.67 L853.70,904.13 L855.20,900.40 L856.70,897.50 L858.20,895.39 L859.70,894.03 L861.20,893.31 L862.70,893.14 L864.20,893.38 L865.70,893.96 L867.20,894.77 L868.70,895.79 L870.20,897.01 L871.70,898.47 L873.20,900.21 L874.70,902.32 L876.20,904.86 L877.70,907.88 L879.20,911.39 L880.70,915.35 L882.20,919.72 L883.70,924.41 L885.20,929.33 L886.70,934.39 L888.20,939.56 L889.70,944.81 L891.20,950.15 L892.70,955.64 L894.20,961.35 L895.70,967.34 L897.20,973.68 L898.70,980.37 L900.20,987.44 L901.70,994.82 L903.20,1002.48 L904.70,1010.33 L906.20,1018.31 L907.70,1026.36 L909.20,1034.47 L910.70,1042.63 L912.20,1050.85 L913.70,1059.17 L915.20,1067.62 L916.70,1076.23 L918.20,1085.00 L919.70,1093.91 L921.20,1102.92 L922.70,1111.98 L924.20,1121.00 L925.70,1129.94 L927.20,1138.73 L928.70,1147.33 L930.20,1155.76 L931.70,1164.00 L933.20,1172.12 L934.70,1180.17 L936.20,1188.21 L937.70,1196.32 L939.20,1204.56 L940.70,1212.96 L942.20,1221.53 L943.70,1230.28 L945.20,1239.14 L946.70,1248.07 L948.20,1256.97 L949.70,1265.77 L951.20,1274.38 L952.70,1282.73 L954.20,1290.76 L955.70,1298.45 L957.20,1305.81 L958.70,1312.85 L960.20,1319.62 L961.70,1326.17 L963.20,1332.56 L964.70,1338.84 L966.20,1345.06 L967.70,1351.25 L969.20,1357.44 L970.70,1363.63 L972.20,1369.83 L973.70,1376.05 L975.20,1382.25 L976.70,1388.44 L978.20,1394.58 L979.70,1400.65 L981.20,1406.60 L982.70,1412.40 L984.20,1418.00 L985.70,1423.36 L987.20,1428.43 L988.70,1433.18 L990.20,1437.57 L991.70,1441.60 L993.20,1445.27 L994.70,1448.58 L996.20,1451.56 L997.70,1454.25 L999.20,1456.67 L1000.70,1458.86 L1002.20,1460.87 L1003.70,1462.71 L1005.20,1464.43 L1006.70,1466.02 L1008.20,1467.53 L1009.70,1468.95 L1011.20,1470.31 L1012.70,1471.62 L1014.20,1472.88 L1015.70,1474.11 L1017.20,1475.32 L1018.70,1476.52 L1020.20,1477.72 L1021.70,1478.93 L1023.20,1480.13 L1024.70,1481.33 L1026.20,1482.53 L1027.70,1483.71 L1029.20,1484.87 L1030.70,1486.00 L1032.20,1487.10 L1033.70,1488.14 L1035.20,1489.13 L1036.70,1490.06 L1038.20,1490.93 L1039.70,1491.73 L1041.20,1492.46 L1042.70,1493.12 L1044.20,1493.72 L1045.70,1494.25 L1047.20,1494.73 L1048.70,1495.16 L1050.20,1495.54 L1051.70,1495.87 L1053.20,1496.18 L1054.70,1496.44 L1056.20,1496.68 L1057.70,1496.89 L1059.20,1497.08 L1060.70,1497.25 L1062.20,1497.40 L1063.70,1497.53 L1065.20,1497.64 L1066.70,1497.75 L1068.20,1497.85 L1069.70,1497.95 L1071.20,1498.05 L1072.70,1498.16 L1074.20,1498.27 L1075.70,1498.38 L1077.20,1498.50 L1078.70,1498.63 L1080.20,1498.75 L1081.70,1498.88 L1083.20,1498.99 L1084.70,1499.10 L1086.20,1499.20 L1087.70,1499.29 L1089.20,1499.37 L1090.70,1499.44 L1092.20,1499.50 L1093.70,1499.57 L1095.20,1499.63 L1096.70,1499.69 L1098.20,1499.76 L1099.70,1499.83 L1101.20,1499.91 L1102.70,1500.00 L1104.20,1500.10 L1105.70,1500.20 L1107.20,1500.30 L1108.70,1500.41 L1110.20,1500.51 L1111.70,1500.61 L1113.20,1500.70 L1114.70,1500.78 L1116.20,1500.85 L1117.70,1500.91 L1119.20,1500.97 L1120.70,1501.01 L1122.20,1501.05 L1123.70,1501.08 L1125.20,1501.10 L1126.70,1501.12 L1128.20,1501.13 L1129.70,1501.14 L1131.20,1501.15 L1132.70,1501.16 L1133.10,1501.16 L1133.10,1501.90Z" fill="#fa7c17" fill-opacity="0.15" stroke="#fa7c17" stroke-width="2.78" stroke-linejoin="round"/>
<path d="M937.0,1501.17V822" stroke="#2a2eec" stroke-width="5.56" stroke-dasharray="20.56 8.89" fill="none"/>
<path d="M854.0,1501.17V822" stroke="#fa7c17" stroke-width="5.56" stroke-dasharray="20.56 8.89" fill="none"/>
</g>
<rect x="1622.5" y="900.5" width="78.0" height="27.0" fill="#2a2eec" fill-opacity="0.25" stroke="#2a2eec" stroke-width="2.78"/>
<rect x="1622.5" y="1014.5" width="78.0" height="28.0" fill="#fa7c17" fill-opacity="0.15" stroke="#fa7c17" stroke-width="2.78"/>
<path d="M1621.94,971.0H1699.72" stroke="#2a2eec" stroke-width="5.56" stroke-dasharray="20.56 8.89" fill="none"/>
<path d="M1621.94,1085.0H1699.72" stroke="#fa7c17" stroke-width="5.56" stroke-dasharray="20.56 8.89" fill="none"/>
</g>
<g id="labels">
<text x="692.98" y="54.62" font-size="47.11" textLength="1033.02" lengthAdjust="spacingAndGlyphs">Prior vs Posterior Distributions | adstock_alpha</text>
<text x="1241.76" y="114.92" font-size="47.11" textLength="50.54" lengthAdjust="spacingAndGlyphs">x1</text>
<text transform="translate(55.74,536.14) rotate(-90)" font-size="44.17" textLength="157.17" lengthAdjust="spacingAndGlyphs">Density</text>
<text x="98.47" y="785.66" font-size="42.58" textLength="24.07" lengthAdjust="spacingAndGlyphs">0</text>
<text x="99.43" y="694.66" font-size="42.58" textLength="23.14" lengthAdjust="spacingAndGlyphs">2</text>
<text x="99.60" y="603.66" font-size="42.58" textLength="24.76" lengthAdjust="spacingAndGlyphs">4</text>
<text x="99.08" y="511.66" font-size="42.58" textLength="24.50" lengthAdjust="spacingAndGlyphs">6</text>
<text x="99.47" y="420.66" font-size="42.58" textLength="24.07" lengthAdjust="spacingAndGlyphs">8</text>
<text x="73.40" y="329.66" font-size="42.58" textLength="47.89" lengthAdjust="spacingAndGlyphs">10</text>
<text x="73.36" y="238.66" font-size="42.58" textLength="47.14" lengthAdjust="spacingAndGlyphs">12</text>
<text x="1744.90" y="197.68" font-size="41.22" textLength="294.17" lengthAdjust="spacingAndGlyphs">Prior Predictive</text>
<text x="1744.91" y="254.68" font-size="41.22" textLength="319.16" lengthAdjust="spacingAndGlyphs">Prior Mean: 0.25</text>
<text x="1744.92" y="312.68" font-size="41.22" textLength="377.13" lengthAdjust="spacingAndGlyphs">Posterior Predictive</text>
<text x="1744.96" y="369.68" font-size="41.22" textLength="623.10" lengthAdjust="spacingAndGlyphs">Posterior Mean: 0.40 (Diff: 0.15)</text>
<text x="1241.76" y="843.92" font-size="47.11" textLength="50.54" lengthAdjust="spacingAndGlyphs">x2</text>
<text transform="translate(55.74,1266.14) rotate(-90)" font-size="44.17" textLength="157.17" lengthAdjust="spacingAndGlyphs">Density</text>
<text x="98.47" y="1515.66" font-size="42.58" textLength="24.07" lengthAdjust="spacingAndGlyphs">0</text>
<text x="99.43" y="1396.66" font-size="42.58" textLength="23.14" lengthAdjust="spacingAndGlyphs">2</text>
<text x="99.60" y="1277.66" font-size="42.58" textLength="24.76" lengthAdjust="spacingAndGlyphs">4</text>
<text x="99.08" y="1158.66" font-size="42.58" textLength="24.50" lengthAdjust="spacingAndGlyphs">6</text>
<text x="99.47" y="1039.66" font-size="42.58" textLength="24.07" lengthAdjust="spacingAndGlyphs">8</text>
<text x="73.40" y="920.66" font-size="42.58" textLength="47.89" lengthAdjust="spacingAndGlyphs">10</text>
<text x="1730.90" y="927.68" font-size="41.22" textLength="294.17" lengthAdjust="spacingAndGlyphs">Prior Predictive</text>
<text x="1730.92" y="984.68" font-size="41.22" textLength="319.12" lengthAdjust="spacingAndGlyphs">Prior Mean: 0.24</text>
<text x="1730.92" y="1041.68" font-size="41.22" textLength="377.13" lengthAdjust="spacingAndGlyphs">Posterior Predictive</text>
<text x="1730.96" y="1098.68" font-size="41.22" textLength="637.09" lengthAdjust="spacingAndGlyphs">Posterior Mean: 0.19 (Diff: -0.05)</text>
<text x="1117.99" y="1592.80" font-size="44.17" textLength="297.01" lengthAdjust="spacingAndGlyphs">Adstock_alpha</text>
<text x="139.78" y="1540.66" font-size="42.58" textLength="92.45" lengthAdjust="spacingAndGlyphs">−0.2</text>
<text x="497.84" y="1540.66" font-size="42.58" textLength="59.31" lengthAdjust="spacingAndGlyphs">0.0</text>
<text x="837.80" y="1540.66" font-size="42.58" textLength="59.51" lengthAdjust="spacingAndGlyphs">0.2</text>
<text x="1178.85" y="1540.66" font-size="42.58" textLength="60.31" lengthAdjust="spacingAndGlyphs">0.4</text>
<text x="1519.80" y="1540.66" font-size="42.58" textLength="60.50" lengthAdjust="spacingAndGlyphs">0.6</text>
<text x="1859.80" y="1540.66" font-size="42.58" textLength="60.50" lengthAdjust="spacingAndGlyphs">0.8</text>
<text x="2199.50" y="1540.66" font-size="42.58" textLength="60.75" lengthAdjust="spacingAndGlyphs">1.0</text>
</g>
</svg></body></html>
